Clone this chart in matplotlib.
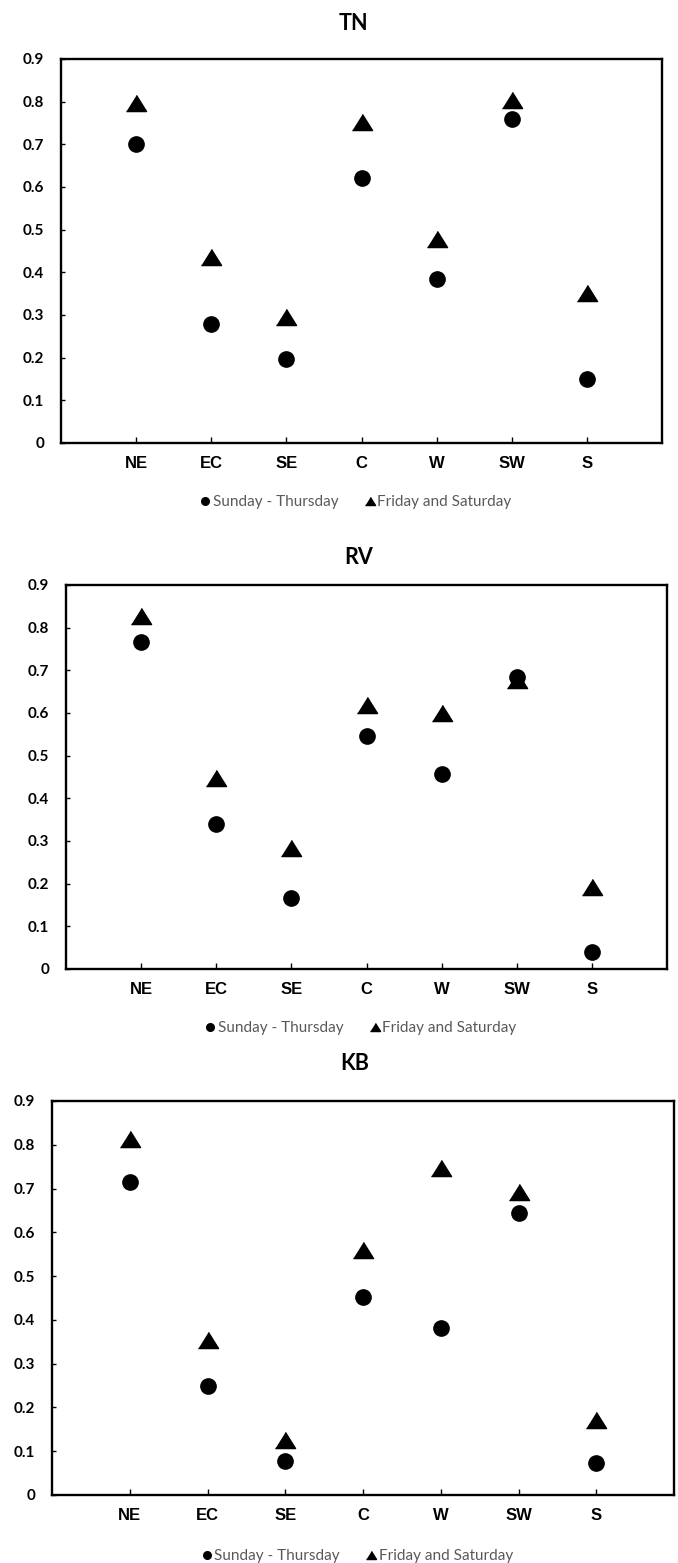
import matplotlib
matplotlib.use('Agg')
import matplotlib.pyplot as plt

# Regiones y valores
regions = ['NE', 'EC', 'SE', 'C', 'W', 'SW', 'S']
panel_names = ['TN', 'RV', 'KB']

tn_sun_thu = [0.70, 0.28, 0.197, 0.62, 0.385, 0.76, 0.151]
tn_fri_sat = [0.797, 0.437, 0.295, 0.752, 0.477, 0.803, 0.352]

rv_sun_thu = [0.767, 0.340, 0.166, 0.547, 0.457, 0.684, 0.041]
rv_fri_sat = [0.828, 0.448, 0.283, 0.619, 0.601, 0.678, 0.192]

kb_sun_thu = [0.714, 0.249, 0.078, 0.452, 0.382, 0.645, 0.074]
kb_fri_sat = [0.813, 0.354, 0.126, 0.559, 0.746, 0.691, 0.172]

y_ticks = [0, 0.1, 0.2, 0.3, 0.4, 0.5, 0.6, 0.7, 0.8, 0.9]
y_labels = ['0', '0.1', '0.2', '0.3', '0.4', '0.5', '0.6', '0.7', '0.8', '0.9']

series = [(tn_sun_thu, tn_fri_sat), (rv_sun_thu, rv_fri_sat), (kb_sun_thu, kb_fri_sat)]

W, H = 678, 1563
# cajas de los ejes en pixeles: izquierda, arriba, derecha, abajo
boxes = [(61, 59, 662, 443), (66, 585, 667, 969), (52, 1101, 674, 1495)]
title_y = [24, 557, 1064]
legend_y = [502, 1028, 1556]

triangle = [(-1, -0.8), (1, -0.8), (0, 0.8)]
x = list(range(1, len(regions) + 1))

fig = plt.figure(figsize=(W / 100, H / 100), dpi=100)

for i in range(3):
    l, t, r, b = boxes[i]
    ax = fig.add_axes([l / W, 1 - b / H, (r - l) / W, (b - t) / H])
    sun, fri = series[i]

    h1, = ax.plot(x, sun, linestyle='none', marker='o', ms=11, color='black', zorder=3)
    h2, = ax.plot(x, fri, linestyle='none', marker=triangle, ms=14.5, color='black', zorder=2)

    ax.set_xlim(0, 8)
    ax.set_ylim(0, 0.9)
    ax.set_xticks(x)
    ax.set_xticklabels(regions, fontfamily='Liberation Sans', fontweight='bold', fontsize=12)
    ax.set_yticks(y_ticks)
    ax.set_yticklabels(y_labels, fontfamily='Lato', fontweight='bold', fontsize=11)
    ax.tick_params(axis='x', direction='in', length=4, width=1.0, pad=9)
    ax.tick_params(axis='y', direction='in', length=3, width=1.0, pad=12)
    for s in ax.spines.values():
        s.set_linewidth(1.7)
        s.set_color('black')

    fig.text(((l + r) / 2 - 8) / W, 1 - title_y[i] / H, panel_names[i],
             ha='center', va='center', fontfamily='Lato', fontweight='bold', fontsize=15.5)

    leg = fig.legend([h1, h2], ['Sunday - Thursday', 'Friday and Saturday'],
                     loc='center', bbox_to_anchor=(((l + r) / 2 - 5) / W, 1 - legend_y[i] / H),
                     ncol=2, frameon=False, markerscale=0.5, handlelength=0.5,
                     handletextpad=0.25, columnspacing=1.8,
                     prop={'family': 'Lato', 'size': 11})
    for txt in leg.get_texts():
        txt.set_color('#595959')

fig.savefig('out.png', dpi=100)
